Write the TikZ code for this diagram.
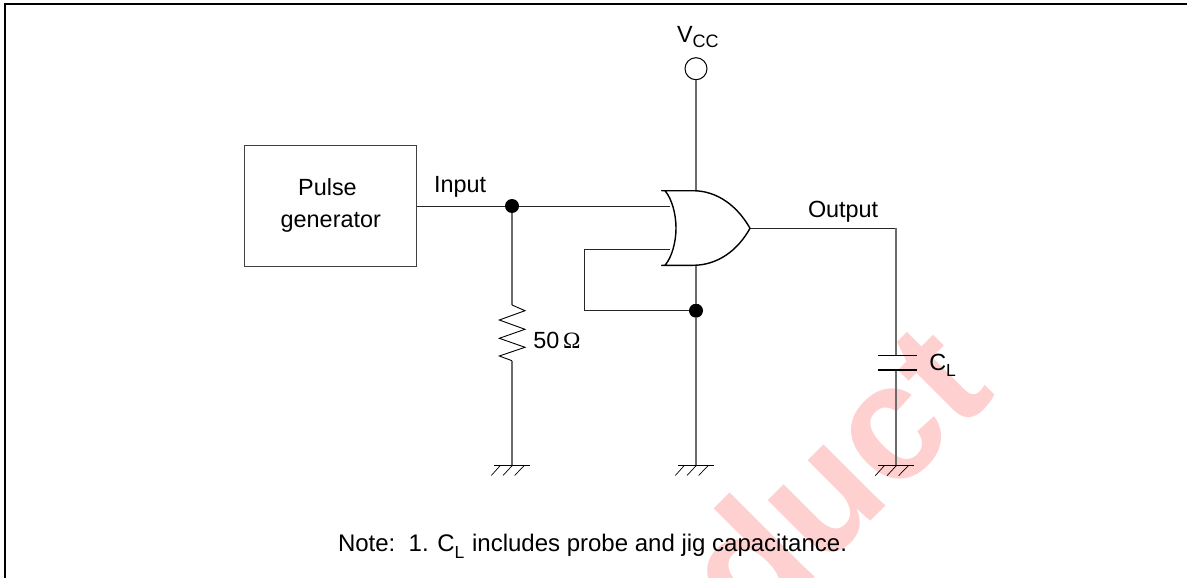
\documentclass[tikz,border=0pt]{standalone}
\usepackage{fontspec}
\setmainfont{Liberation Sans}
\newfontfamily\serifomega{Liberation Serif}
\newfontfamily\markfont{Liberation Sans}[BoldFont={Liberation Sans Bold}]
\definecolor{markpink}{RGB}{255,208,208}
\newcommand{\lbl}{\fontsize{23.4}{26}\selectfont}
\newcommand{\sbs}[1]{\raisebox{-6.6pt}{\fontsize{17.5}{18}\selectfont #1}}
\tikzset{
  x=1pt,y=-1pt,
  wire/.style={line width=.9pt,black!85},
  vwire/.style={line width=1.3pt,black!58},
  txt/.style={inner sep=0pt,outer sep=0pt,anchor=base west,font=\lbl},
  ctxt/.style={inner sep=0pt,outer sep=0pt,anchor=base,font=\lbl},
  junction/.style={circle,fill=black,inner sep=0pt,minimum size=14pt},
  terminal/.style={circle,draw=black,line width=1pt,fill=white,inner sep=0pt,minimum size=22pt},
  genbox/.style={draw=black!75,line width=1pt,inner sep=0pt,minimum width=172pt,minimum height=121.5pt,anchor=north west},
  gnd/.pic={
    \draw[line width=1pt,black] (-17.7,0) -- (17.7,0);
    \draw[line width=.7pt,black] (-20.7,10) -- (-11.7,0) (-9,10) -- (0.3,0) (2.6,10) -- (12.3,0);
  }
}
\begin{document}
\begin{tikzpicture}
\useasboundingbox (0,0) rectangle (1187,578);
\clip (0,0) rectangle (1187,578);
% watermark
\node[inner sep=0pt,anchor=base west,rotate=45,text=markpink,font=\markfont\bfseries\fontsize{165}{165}\selectfont] (wm) at (751,641) {duct};
% frame
\draw[line width=2pt,black] (5,578) -- (5,4) -- (1187,4);
% nodes
\node[genbox] (gen) at (244,144.7) {};
\node[ctxt] (pulse) at (327.5,195.7) {Pulse};
\node[ctxt] (genl) at (330.8,227.7) {generator};
\node[txt] (inl) at (434,192) {Input};
\node[txt] (outl) at (808,217.7) {Output};
\node[txt] (vcc) at (677,42.3) {V\raisebox{-5.4pt}{\fontsize{18}{18}\selectfont CC}};
\node[txt] (ohm) at (533.3,348) {50\,{\serifomega Ω}};
\node[txt] (cl) at (929.3,370) {C\sbs{L}};
\node[txt,font=\fontsize{24}{26}\selectfont] (note) at (338,551.7) {Note:\ \ 1.\kern2pt\ C\sbs{L}\kern1pt\ includes probe and jig capacitance.};
\node[terminal] (vt) at (696,68.7) {};
\node[junction] (ja) at (512,206) {};
\node[junction] (jb) at (696,310.7) {};
% named points
\coordinate (gt) at (696,190.7);
\coordinate (gb) at (696,265.3);
\coordinate (gin1) at (669.5,206);
\coordinate (gin2) at (669.5,249.3);
\coordinate (gout) at (750,228.3);
\coordinate (corner) at (896,228.3);
\coordinate (capt) at (896,355.7);
\coordinate (capb) at (896,370);
\coordinate (gc) at (896,465.7);
\coordinate (gm) at (696,465.5);
\coordinate (gl) at (512,465.5);
\coordinate (fbt) at (584,249.3);
\coordinate (fbb) at (584,310.7);
\coordinate (rt) at (512,305);
\coordinate (rb) at (512,360.7);
% wires
\draw[wire] (gen.east |- ja) -- (ja);
\draw[wire] (ja) -- (gin1);
\draw[vwire] (ja) -- (rt);
\draw[line width=.9pt,black] (rt) -- (525,310.7) -- (499.3,320) -- (525,329.3) -- (499.3,338.3) -- (525,347.3) -- (499.3,356) -- (rb);
\draw[vwire] (rb) -- (gl);
\draw[vwire] (vt) -- (gt);
\draw[vwire] (gb) -- (jb);
\draw[vwire] (jb) -- (gm);
\draw[wire] (gin2) -- (fbt) -- (fbb) -- (jb);
\draw[wire] (gout) -- (corner);
\draw[vwire] (corner) -- (capt);
\draw[vwire] (capb) -- (gc);
\draw[line width=1.1pt,black] (878,355.7) -- (916.7,355.7) (878,370) -- (916.7,370);
\pic at (gc) {gnd};
\pic at (gm) {gnd};
\pic at (gl) {gnd};
% gate
\draw[line width=1.4pt,black,fill=white,line join=round]
  (661.7,190.7) -- (665,190.7) .. controls (672,199) and (676,214) .. (676,228.3)
  .. controls (676,242) and (672,257) .. (665,265.3) -- (661.7,265.3) -- (665,265.3) -- (693,265.3)
  .. controls (718,265.3) and (738,250) .. (gout)
  .. controls (738,207) and (718,190.7) .. (693,190.7) -- cycle;
\end{tikzpicture}
\end{document}
